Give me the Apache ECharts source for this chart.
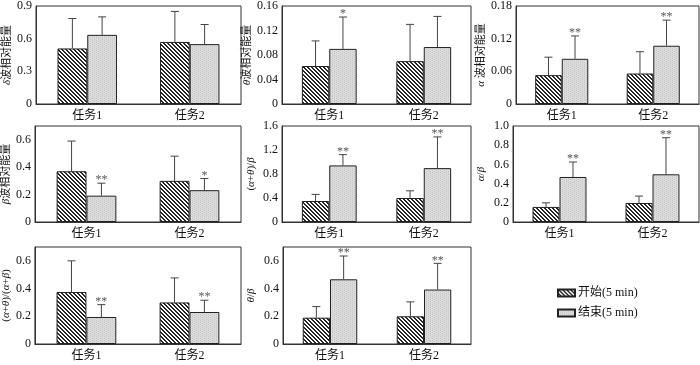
<!DOCTYPE html>
<html>
<head>
<meta charset="utf-8">
<script src="https://cdn.jsdelivr.net/npm/echarts@6/dist/echarts.min.js"></script>
<style>
  html, body { margin: 0; padding: 0; background: #fff; }
  #main { width: 700px; height: 365px; }
</style>
</head>
<body>
<div id="main"></div>
<script>
// data
let categories = ['任务1', '任务2'];
let seriesNames = ['开始(5 min)', '结束(5 min)'];
let axisNames = [
    '{g|δ}波相对能量', '{g|θ}波相对能量', '{g|α} 波相对能量',
    '{g|β}波相对能量', '({g|α}+{g|θ})/{g|β}', '{g|α}/{g|β}',
    '({g|α}+{g|θ})/({g|α}+{g|β})', '{g|θ}/{g|β}'
];
let startMean = [[0.51, 0.57], [0.062, 0.070], [0.053, 0.056], [0.37, 0.30], [0.35, 0.40], [0.157, 0.198], [0.375, 0.30], [0.19, 0.20]];
let startSd   = [[0.275, 0.28], [0.041, 0.06], [0.033, 0.04], [0.22, 0.18], [0.11, 0.12], [0.043, 0.072], [0.225, 0.177], [0.08, 0.104]];
let endMean   = [[0.635, 0.55], [0.090, 0.093], [0.083, 0.107], [0.192, 0.232], [0.943, 0.898], [0.469, 0.497], [0.195, 0.231], [0.467, 0.393]];
let endSd     = [[0.165, 0.18], [0.052, 0.05], [0.042, 0.047], [0.091, 0.085], [0.18, 0.52], [0.156, 0.381], [0.089, 0.085], [0.168, 0.189]];
let endSig    = [['', ''], ['*', ''], ['**', '**'], ['**', '*'], ['**', '**'], ['**', '**'], ['**', '**'], ['**', '**']];
// y axis ticks
let yMax      = [0.9, 0.16, 0.18, 0.7, 1.6, 1.0, 0.7, 0.7];
let labelStep = [0.3, 0.04, 0.06, 0.2, 0.4, 0.2, 0.2, 0.2];
let tickStep  = [0.15, 0.02, 0.02, 0.1, 0.2, 0.1, 0.1, 0.1];
let decimals  = [1, 2, 2, 1, 1, 1, 1, 1];

// panel boxes [left, top, width, height, nameGap]
let boxes = [
    [36, 6, 205, 98, 21], [282, 6, 189, 98, 24], [516, 6, 183, 98, 26],
    [35, 126, 206, 96, 20], [282, 126, 189, 96, 25], [513, 126, 186, 96, 26],
    [34, 247, 207, 97, 19], [283, 247, 188, 97, 26]
];

let serif = '"Liberation Serif", "Noto Sans CJK SC", serif';
let gapPct = 0.42;

function makePattern(size, fn) {
    let c = document.createElement('canvas');
    c.width = size; c.height = size;
    let ctx = c.getContext('2d');
    let img = ctx.createImageData(size, size);
    for (let y = 0; y < size; y++) {
        for (let x = 0; x < size; x++) {
            let v = fn(x, y);
            let k = (y * size + x) * 4;
            img.data[k] = v; img.data[k + 1] = v; img.data[k + 2] = v; img.data[k + 3] = 255;
        }
    }
    ctx.putImageData(img, 0, 0);
    return c;
}
let hatch = makePattern(4, (x, y) => ((x - y + 8) % 4 < 2 ? 40 : 255));
let dots = makePattern(4, (x, y) => ((x + 2 * y) % 4 === 0 ? 196 : 220));

let grids = [], xAxes = [], yAxes = [], series = [];

boxes.forEach((b, i) => {
    grids.push({
        left: b[0], top: b[1], width: b[2], height: b[3],
        show: true, borderColor: '#333', borderWidth: 1, backgroundColor: 'transparent'
    });
    xAxes.push({
        type: 'category', gridIndex: i, data: categories,
        axisLine: { lineStyle: { color: '#333' } },
        axisTick: { inside: true, length: 3, lineStyle: { color: '#333' } },
        axisLabel: { color: '#111', fontSize: 12, fontFamily: serif, margin: 6 }
    });
    yAxes.push({
        type: 'value', gridIndex: i, min: 0, max: yMax[i], interval: tickStep[i],
        name: axisNames[i], nameLocation: 'middle', nameGap: b[4],
        nameTextStyle: {
            color: '#111', fontSize: 11, fontFamily: serif,
            rich: { g: { fontStyle: 'italic', fontSize: 11, fontFamily: serif, color: '#111' } }
        },
        splitLine: { show: false },
        axisLine: { show: true, lineStyle: { color: '#333' } },
        axisTick: { inside: true, length: 4, lineStyle: { color: '#333' } },
        axisLabel: {
            color: '#111', fontSize: 12, fontFamily: serif, margin: 4,
            formatter: function (v) {
                let r = v / labelStep[i];
                if (Math.abs(r - Math.round(r)) > 1e-6) return '';
                return v === 0 ? '0' : v.toFixed(decimals[i]);
            }
        }
    });
    series.push({
        type: 'bar', name: seriesNames[0], xAxisIndex: i, yAxisIndex: i,
        data: startMean[i], barGap: '0%', barCategoryGap: (gapPct * 100) + '%',
        itemStyle: { color: { image: hatch, repeat: 'repeat' }, borderColor: '#222', borderWidth: 1 }
    });
    series.push({
        type: 'bar', name: seriesNames[1], xAxisIndex: i, yAxisIndex: i,
        data: endMean[i], barGap: '0%', barCategoryGap: (gapPct * 100) + '%',
        itemStyle: { color: { image: dots, repeat: 'repeat' }, borderColor: '#222', borderWidth: 1 }
    });
    let errData = [];
    for (let c = 0; c < 2; c++) {
        errData.push([c, startMean[i][c], startMean[i][c] + startSd[i][c], 0]);
        errData.push([c, endMean[i][c], endMean[i][c] + endSd[i][c], 1]);
    }
    series.push({
        type: 'custom', xAxisIndex: i, yAxisIndex: i, z: 5,
        encode: { x: 0, y: 1 },
        data: errData,
        renderItem: function (params, api) {
            let ci = api.value(0), mean = api.value(1), top = api.value(2), g = api.value(3);
            let band = api.size([1, 0])[0];
            let bw = band * (1 - gapPct) / 2;
            let p0 = api.coord([ci, mean]);
            let p1 = api.coord([ci, top]);
            let x = p0[0] + (g === 0 ? -bw / 2 : bw / 2);
            let st = { stroke: '#444', lineWidth: 1 };
            let children = [
                { type: 'line', shape: { x1: x, y1: p0[1], x2: x, y2: p1[1] }, style: st },
                { type: 'line', shape: { x1: x - 4, y1: p1[1], x2: x + 4, y2: p1[1] }, style: st }
            ];
            let sig = g === 1 ? endSig[i][ci] : '';
            if (sig) {
                children.push({
                    type: 'text',
                    style: {
                        x: x, y: p1[1] - 3, text: sig,
                        fill: '#555', font: '12px ' + serif,
                        textAlign: 'center', textVerticalAlign: 'middle'
                    }
                });
            }
            return { type: 'group', children: children };
        }
    });
});

let chart = echarts.init(document.getElementById('main'));
chart.setOption({
    animation: false,
    grid: grids,
    xAxis: xAxes,
    yAxis: yAxes,
    legend: {
        data: seriesNames, orient: 'vertical', left: 557, top: 287,
        itemWidth: 17, itemHeight: 7, itemGap: 8, padding: 0,
        selectedMode: false, icon: 'rect',
        textStyle: { color: '#111', fontSize: 12, fontFamily: serif, padding: [0, 0, 0, -2] }
    },
    series: series
});
</script>
</body>
</html>
